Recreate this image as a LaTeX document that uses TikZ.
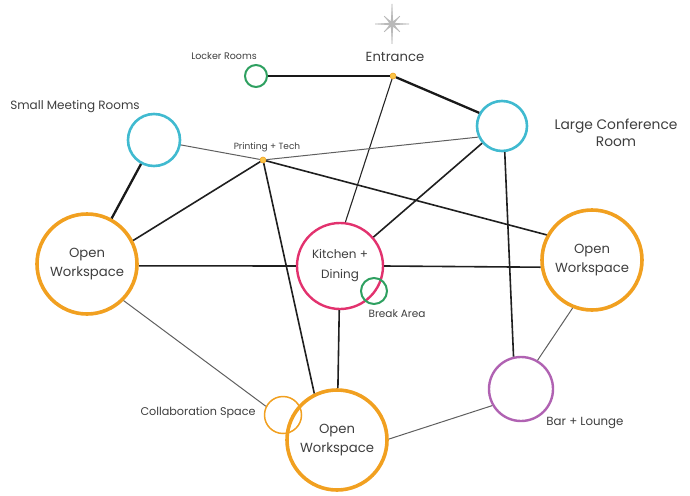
\documentclass[tikz,border=0pt]{standalone}
\usepackage{fontspec}
\setmainfont{Poppins}
\definecolor{owOrange}{RGB}{241,160,32}
\definecolor{cyanC}{RGB}{64,186,208}
\definecolor{pinkC}{RGB}{226,50,110}
\definecolor{greenC}{RGB}{46,160,96}
\definecolor{purpleC}{RGB}{176,98,178}
\definecolor{txtC}{RGB}{62,62,62}
\definecolor{thinC}{RGB}{95,95,95}
\definecolor{dotC}{RGB}{250,196,70}
\definecolor{starC}{RGB}{185,185,185}
\begin{document}
\begin{tikzpicture}[x=1pt,y=-1pt,
  room/.style={circle, draw, inner sep=0pt, align=center, text=txtC},
  ow/.style={room, draw=owOrange, line width=3.6pt, minimum size=100pt, font=\fontsize{13.2}{19.5}\selectfont},
  kdroom/.style={room, draw=pinkC, line width=2.4pt, minimum size=86pt, font=\fontsize{12}{20}\selectfont},
  cyanroom/.style={room, draw=cyanC, line width=2.6pt},
  greenroom/.style={room, draw=greenC, line width=2pt},
  dotnode/.style={circle, fill=dotC, draw=owOrange, line width=0.6pt, minimum size=6pt, inner sep=0pt},
  lbl/.style={text=txtC, inner sep=1pt, align=center},
  thickE/.style={line width=2.3pt, black!90},
  medE/.style={line width=1.6pt, black!88},
  thinE/.style={line width=1pt, thinC}]
\useasboundingbox (0,0) rectangle (690,495);

% star
\fill[starC, shift={(392,24)}] (90:20) -- (67.5:3) -- (45:11) -- (22.5:3) -- (0:17) -- (-22.5:3) -- (-45:11) -- (-67.5:3) -- (-90:20) -- (-112.5:3) -- (-135:11) -- (-157.5:3) -- (180:17) -- (157.5:3) -- (135:11) -- (112.5:3) -- cycle;
\draw[starC, line width=0.8pt, shift={(392,24)}] (90:20) -- (-90:20) (0:17) -- (180:17) (45:11) -- (-135:11) (135:11) -- (-45:11);

% rooms
\node[ow] (low) at (87,264) {Open\\Workspace};
\node[ow] (row) at (592,260) {Open\\Workspace};
\node[ow] (bow) at (337,440) {Open\\Workspace};
\node[kdroom] (kd) at (340,266) {Kitchen +\\Dining};
\node[greenroom, minimum size=26pt] (ba) at (374,291) {};
\node[cyanroom, minimum size=50pt] (lc) at (502,126) {};
\node[cyanroom, minimum size=52pt] (smr) at (154,140) {};
\node[greenroom, minimum size=22pt] (lr) at (256,76) {};
\node[room, draw=owOrange, line width=1.5pt, minimum size=37pt] (cs) at (283,415) {};
\node[room, draw=purpleC, line width=2.4pt, minimum size=64pt] (bar) at (521,389) {};
\node[dotnode] (ent) at (393,76) {};
\node[dotnode] (pt) at (263,160) {};

% labels
\node[lbl, font=\fontsize{13.2}{15}\selectfont] (entl) at (395,57) {Entrance};
\node[lbl, font=\fontsize{9.5}{11}\selectfont] (lrl) at (224,56) {Locker Rooms};
\node[lbl, font=\fontsize{12}{14}\selectfont] (smrl) at (75,107) {Small Meeting Rooms};
\node[lbl, font=\fontsize{9}{11}\selectfont] (ptl) at (267,147) {Printing + Tech};
\node[lbl, font=\fontsize{13.8}{17}\selectfont] (lcl) at (616,133) {Large Conference\\Room};
\node[lbl, font=\fontsize{10.5}{12}\selectfont] (bal) at (397,314) {Break Area};
\node[lbl, font=\fontsize{11.2}{13}\selectfont] (csl) at (198,413) {Collaboration Space};
\node[lbl, font=\fontsize{11.8}{13}\selectfont] (barl) at (585,423) {Bar + Lounge};

% connectors
\draw[thickE] (lr) -- (ent);
\draw[thickE] (ent) -- (lc.150);
\draw[line width=1.1pt, black!85] (ent) -- (kd.83);
\draw[thinE] (smr) -- (pt);
\draw[thinE] (pt) -- (lc.205);
\draw[thickE] (smr) -- (low);
\draw[medE] (pt) -- (low.27);
\draw[medE] (pt) -- (row.151);
\draw[medE] (pt) -- (bow.116);
\draw[medE] (lc) -- (kd);
\draw[medE] (lc.-84) -- (bar.103);
\draw[medE] (low.-2) -- (kd.180);
\draw[medE] (kd.0) -- (row.188);
\draw[medE] (kd) -- (bow);
\draw[thinE] (low.-45) -- (cs.153);
\draw[thinE] (bow.1) -- (bar.210);
\draw[thinE] (bar.60) -- (row.248);
\end{tikzpicture}
\end{document}
